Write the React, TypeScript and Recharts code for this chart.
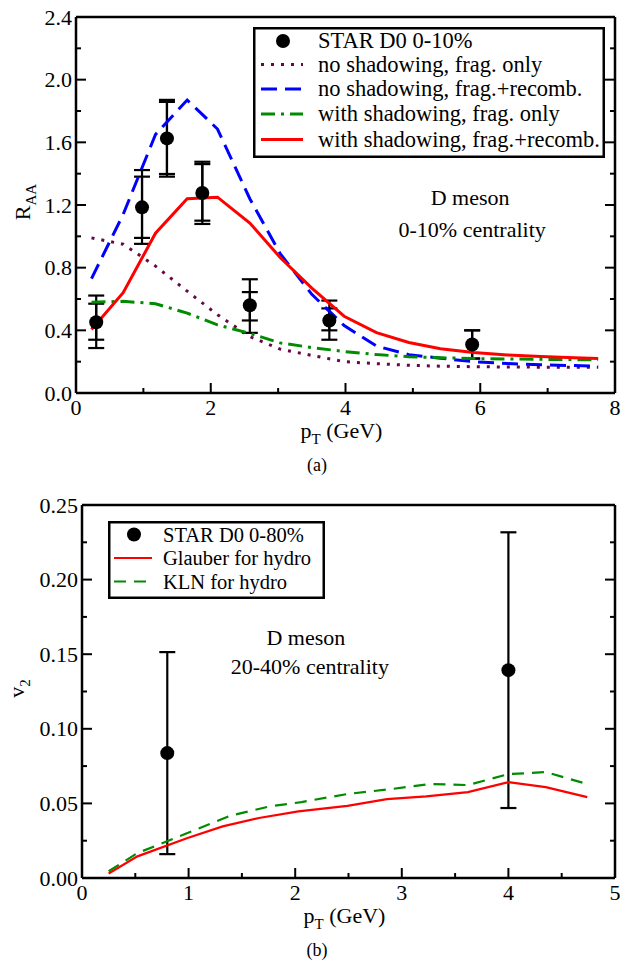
import React from 'react';
import { ComposedChart, Line, Scatter, XAxis, YAxis, ErrorBar, Legend, ReferenceDot } from 'recharts';

const FONT = '"Liberation Serif"';

// ---------- Panel (a): R_AA ----------
const raaPt = [0.3, 0.98, 1.35, 1.875, 2.58, 3.76, 5.88];
const raaVal = [0.452, 1.185, 1.625, 1.277, 0.56, 0.463, 0.31];
const raaInnerLow = [0.34, 0.99, 1.398, 1.1, 0.463, 0.4, 0.22];
const raaInnerHigh = [0.57, 1.381, 1.858, 1.461, 0.644, 0.54, 0.4];
const raaOuterLow = [0.287, 0.952, 1.381, 1.079, 0.384, 0.34, 0.22];
const raaOuterHigh = [0.622, 1.423, 1.871, 1.476, 0.726, 0.59, 0.4];

const modelPt = [0.23, 0.7, 1.18, 1.65, 2.1, 2.58, 3.03, 3.5, 3.98, 4.46, 4.94, 5.41, 5.9, 6.4, 6.9, 7.4, 7.75];
const noShadFrag = [0.99, 0.95, 0.81, 0.65, 0.5, 0.36, 0.28, 0.24, 0.2, 0.187, 0.177, 0.171, 0.168, 0.166, 0.165, 0.165, 0.165];
const noShadFragRecomb = [0.73, 1.14, 1.65, 1.87, 1.685, 1.24, 0.89, 0.63, 0.43, 0.3, 0.245, 0.222, 0.2, 0.188, 0.18, 0.175, 0.172];
const shadFrag = [0.58, 0.585, 0.57, 0.51, 0.435, 0.38, 0.32, 0.29, 0.265, 0.245, 0.232, 0.225, 0.22, 0.217, 0.215, 0.213, 0.212];
const shadFragRecomb = [0.405, 0.64, 1.02, 1.24, 1.25, 1.085, 0.865, 0.67, 0.49, 0.385, 0.322, 0.283, 0.258, 0.243, 0.233, 0.225, 0.22];

const aXTicks = [0, 1, 2, 3, 4, 5, 6, 7, 8];
const aXMajor = [0, 2, 4, 6, 8];
const aYTicks = [0, 0.2, 0.4, 0.6, 0.8, 1.0, 1.2, 1.4, 1.6, 1.8, 2.0, 2.2, 2.4];
const aYMajor = [0, 0.4, 0.8, 1.2, 1.6, 2.0, 2.4];

const aLegendNames = ['STAR D0 0-10%', 'no shadowing, frag. only', 'no shadowing, frag.+recomb.', 'with shadowing, frag. only', 'with shadowing, frag.+recomb.'];
const aAnnotation = ['D meson', '0-10% centrality'];

// ---------- Panel (b): v2 ----------
const v2Pt = [0.8, 4.0];
const v2Val = [0.0837, 0.1393];
const v2Err = [0.0677, 0.0924];

const glauberPt = [0.25, 0.52, 0.99, 1.32, 1.66, 2.03, 2.49, 2.86, 3.23, 3.62, 4.0, 4.35, 4.74];
const glauberV2 = [0.003, 0.0145, 0.0268, 0.0346, 0.0402, 0.0446, 0.0484, 0.0529, 0.0547, 0.0576, 0.0643, 0.0609, 0.0542];
const klnPt = [0.25, 0.52, 0.99, 1.39, 1.76, 2.06, 2.49, 2.9, 3.26, 3.62, 4.0, 4.35, 4.71];
const klnV2 = [0.0045, 0.0167, 0.0301, 0.0417, 0.048, 0.0509, 0.0563, 0.0596, 0.063, 0.0623, 0.0696, 0.071, 0.0636];

const bXTicks = [0, 0.5, 1, 1.5, 2, 2.5, 3, 3.5, 4, 4.5, 5];
const bXMajor = [0, 1, 2, 3, 4, 5];
const bYTicks = [0, 0.025, 0.05, 0.075, 0.1, 0.125, 0.15, 0.175, 0.2, 0.225, 0.25];
const bYMajor = [0, 0.05, 0.1, 0.15, 0.2, 0.25];

const bLegendNames = ['STAR D0 0-80%', 'Glauber for hydro', 'KLN for hydro'];
const bAnnotation = ['D meson', '20-40% centrality'];

// ---------- Styles ----------
const C_PURPLE = '#670748';
const C_BLUE = '#0000ff';
const C_GREEN = '#008b00';
const C_RED = '#ff0000';

const dashPurple = '3 7';
const dashBlue = '16 8';
const dashGreenA = '14 6 3 6';
const dashGreenB = '12 8';

// ---------- Data tables ----------
const aPoints = raaPt.map((x, i) => ({
  x,
  y: raaVal[i],
  eIn: [raaVal[i] - raaInnerLow[i], raaInnerHigh[i] - raaVal[i]],
  eOut: [raaVal[i] - raaOuterLow[i], raaOuterHigh[i] - raaVal[i]],
}));
const mk = (xs: number[], ys: number[]) => xs.map((x, i) => ({ x, y: ys[i] }));
const aPurple = mk(modelPt, noShadFrag);
const aBlue = mk(modelPt, noShadFragRecomb);
const aGreen = mk(modelPt, shadFrag);
const aRed = mk(modelPt, shadFragRecomb);

const bPoints = v2Pt.map((x, i) => ({ x, y: v2Val[i], e: [v2Err[i], v2Err[i]] }));
const bRed = mk(glauberPt, glauberV2);
const bGreen = mk(klnPt, klnV2);

// ---------- Helpers ----------
type Side = 'bottom' | 'left' | 'top' | 'right';
const isIn = (arr: number[], v: number) => arr.some((m) => Math.abs(m - v) < 1e-6);

const txtStyle = { fontFamily: FONT };

const makeTick = (side: Side, majors: number[], fmt: ((v: number) => string) | null) => (props: any) => {
  const { x, y, payload } = props;
  const v = Number(payload.value);
  const major = isIn(majors, v);
  const len = major ? 10 : 5;
  let line: any = null;
  let label: any = null;
  if (side === 'bottom') {
    line = <line x1={x} y1={y} x2={x} y2={y - len} stroke="#000" strokeWidth={2} />;
    if (major && fmt) label = <text x={x} y={y + 22} textAnchor="middle" style={txtStyle} fontSize={22} fill="#000">{fmt(v)}</text>;
  } else if (side === 'left') {
    line = <line x1={x} y1={y} x2={x + len} y2={y} stroke="#000" strokeWidth={2} />;
    if (major && fmt) label = <text x={x - 4} y={y + 7.5} textAnchor="end" style={txtStyle} fontSize={22} fill="#000">{fmt(v)}</text>;
  } else if (side === 'top') {
    line = <line x1={x} y1={y} x2={x} y2={y + len} stroke="#000" strokeWidth={2} />;
  } else {
    line = <line x1={x} y1={y} x2={x - len} y2={y} stroke="#000" strokeWidth={2} />;
  }
  return (
    <g>
      {line}
      {label}
    </g>
  );
};

const axisLine = { stroke: '#000', strokeWidth: 2.5 };

const xTitle = (dx: number, dy: number) => (props: any) => {
  const vb = props.viewBox || { x: 0, y: 0, width: 0, height: 0 };
  return (
    <text x={vb.x + vb.width / 2 + dx} y={vb.y + dy} textAnchor="middle" fontSize={22} fill="#000" style={{ fontFamily: FONT, whiteSpace: 'pre' }}>
      p<tspan fontSize={15} dy={6}>T</tspan>
      <tspan dy={-6}> (GeV)</tspan>
    </text>
  );
};

const yTitle = (main: string, sub: string, bx: number, dy: number) => (props: any) => {
  const vb = props.viewBox || { x: 0, y: 0, width: 0, height: 0 };
  const cx = vb.x + bx;
  const cy = vb.y + vb.height / 2 + dy;
  return (
    <text transform={`rotate(-90, ${cx}, ${cy})`} x={cx} y={cy} textAnchor="middle" fontSize={22} fill="#000" style={txtStyle}>
      {main}
      <tspan fontSize={15} dy={6}>{sub}</tspan>
    </text>
  );
};

const annotation = (lines: string[], gap: number, dx2: number) => (props: any) => {
  const vb = props.viewBox || { x: 0, y: 0, width: 0, height: 0 };
  const cx = vb.x + vb.width / 2;
  const cy = vb.y + vb.height / 2;
  return (
    <g>
      <text x={cx} y={cy} textAnchor="middle" fontSize={22} fill="#000" style={txtStyle}>{lines[0]}</text>
      <text x={cx + dx2} y={cy + gap} textAnchor="middle" fontSize={22} fill="#000" style={txtStyle}>{lines[1]}</text>
    </g>
  );
};

const dotShape = (props: any) => <circle cx={props.cx} cy={props.cy} r={7} fill="#000" />;

const TopLegend = () => {
  const rows = [14, 37.5, 62, 87, 112.5];
  const styles = [
    null,
    { stroke: C_PURPLE, dash: dashPurple },
    { stroke: C_BLUE, dash: dashBlue },
    { stroke: C_GREEN, dash: dashGreenA },
    { stroke: C_RED, dash: undefined },
  ];
  return (
    <svg width={352} height={131} style={{ display: 'block' }}>
      <rect x={1.25} y={1.25} width={349.5} height={128.5} fill="#fff" stroke="#000" strokeWidth={2.5} />
      {aLegendNames.map((name, i) => (
        <g key={name}>
          {i === 0 ? (
            <circle cx={30} cy={rows[i]} r={7} fill="#000" />
          ) : (
            <line x1={8} x2={50} y1={rows[i]} y2={rows[i]} stroke={styles[i]!.stroke} strokeWidth={3} strokeDasharray={styles[i]!.dash} />
          )}
          <text x={65} y={rows[i] + 7} fontSize={22.5} fill="#000" style={txtStyle}>{name}</text>
        </g>
      ))}
    </svg>
  );
};

const BottomLegend = () => {
  const rows = [13.5, 37, 60.5];
  const styles = [null, { stroke: C_RED, dash: undefined }, { stroke: C_GREEN, dash: dashGreenB }];
  return (
    <svg width={217} height={78} style={{ display: 'block' }}>
      <rect x={1.25} y={1.25} width={214.5} height={75.5} fill="#fff" stroke="#000" strokeWidth={2.5} />
      {bLegendNames.map((name, i) => (
        <g key={name}>
          {i === 0 ? (
            <circle cx={26} cy={rows[i]} r={7} fill="#000" />
          ) : (
            <line x1={6} x2={44} y1={rows[i]} y2={rows[i]} stroke={styles[i]!.stroke} strokeWidth={2} strokeDasharray={styles[i]!.dash} />
          )}
          <text x={55} y={rows[i] + 7} fontSize={20.5} fill="#000" style={txtStyle}>{name}</text>
        </g>
      ))}
    </svg>
  );
};

const fmt1 = (v: number) => v.toFixed(1);
const fmt2 = (v: number) => v.toFixed(2);
const fmt0 = (v: number) => String(Math.round(v));

export default function App() {
  return (
    <div style={{ position: 'absolute', left: 0, top: 0, width: 631, height: 967, background: '#fff', fontFamily: FONT }}>
      <div style={{ position: 'absolute', left: 0, top: 0 }}>
        <ComposedChart width={631} height={480} margin={{ top: 12, right: 6, bottom: 7, left: 26 }} style={{ fontFamily: FONT }}>
          <XAxis
            dataKey="x"
            type="number"
            domain={[0, 8]}
            ticks={aXTicks}
            interval={0}
            allowDataOverflow
            height={80}
            tickSize={0}
            tickMargin={0}
            axisLine={axisLine}
            tickLine={false}
            tick={makeTick('bottom', aXMajor, fmt0)}
            label={{ content: xTitle(-4, 45) } as any}
          />
          <XAxis
            xAxisId="top"
            orientation="top"
            type="number"
            domain={[0, 8]}
            ticks={aXTicks}
            interval={0}
            allowDataOverflow
            height={5}
            tickSize={0}
            tickMargin={0}
            axisLine={axisLine}
            tickLine={false}
            tick={makeTick('top', aXMajor, null)}
          />
          <YAxis
            dataKey="y"
            type="number"
            domain={[0, 2.4]}
            ticks={aYTicks}
            interval={0}
            allowDataOverflow
            width={50}
            tickSize={0}
            tickMargin={0}
            axisLine={axisLine}
            tickLine={false}
            tick={makeTick('left', aYMajor, fmt1)}
            label={{ content: yTitle('R', 'AA', 4, -3) } as any}
          />
          <YAxis
            yAxisId="right"
            orientation="right"
            type="number"
            domain={[0, 2.4]}
            ticks={aYTicks}
            interval={0}
            allowDataOverflow
            width={10}
            tickSize={0}
            tickMargin={0}
            axisLine={axisLine}
            tickLine={false}
            tick={makeTick('right', aYMajor, null)}
          />
          <Scatter name={aLegendNames[0]} data={aPoints} shape={dotShape} isAnimationActive={false}>
            <ErrorBar dataKey="eOut" direction="y" width={8} stroke="#000" strokeWidth={2.2} isAnimationActive={false} />
            <ErrorBar dataKey="eIn" direction="y" width={8} stroke="#000" strokeWidth={2.2} isAnimationActive={false} />
          </Scatter>
          <Line name={aLegendNames[1]} data={aPurple} dataKey="y" type="linear" stroke={C_PURPLE} strokeWidth={3} strokeDasharray={dashPurple} dot={false} isAnimationActive={false} />
          <Line name={aLegendNames[2]} data={aBlue} dataKey="y" type="linear" stroke={C_BLUE} strokeWidth={3} strokeDasharray={dashBlue} dot={false} isAnimationActive={false} />
          <Line name={aLegendNames[3]} data={aGreen} dataKey="y" type="linear" stroke={C_GREEN} strokeWidth={3} strokeDasharray={dashGreenA} dot={false} isAnimationActive={false} />
          <Line name={aLegendNames[4]} data={aRed} dataKey="y" type="linear" stroke={C_RED} strokeWidth={3} dot={false} isAnimationActive={false} />
          <ReferenceDot x={5.85} y={1.2} r={1} fill="none" stroke="none" ifOverflow="visible" label={annotation(aAnnotation, 32, 2) as any} />
          <Legend
            layout="vertical"
            align="center"
            verticalAlign="middle"
            wrapperStyle={{ left: 253, top: 27, width: 352, height: 131 }}
            content={() => <TopLegend />}
          />
        </ComposedChart>
      </div>
      <div style={{ position: 'absolute', left: 295, top: 454, width: 44, textAlign: 'center', fontSize: 18, lineHeight: '22px', fontFamily: FONT }}>(a)</div>

      <div style={{ position: 'absolute', left: 0, top: 488 }}>
        <ComposedChart width={631} height={479} margin={{ top: 12, right: 6, bottom: 9, left: 32 }} style={{ fontFamily: FONT }}>
          <XAxis
            dataKey="x"
            type="number"
            domain={[0, 5]}
            ticks={bXTicks}
            interval={0}
            allowDataOverflow
            height={80}
            tickSize={0}
            tickMargin={0}
            axisLine={axisLine}
            tickLine={false}
            tick={makeTick('bottom', bXMajor, fmt0)}
            label={{ content: xTitle(-4, 45) } as any}
          />
          <XAxis
            xAxisId="top"
            orientation="top"
            type="number"
            domain={[0, 5]}
            ticks={bXTicks}
            interval={0}
            allowDataOverflow
            height={5}
            tickSize={0}
            tickMargin={0}
            axisLine={axisLine}
            tickLine={false}
            tick={makeTick('top', bXMajor, null)}
          />
          <YAxis
            dataKey="y"
            type="number"
            domain={[0, 0.25]}
            ticks={bYTicks}
            interval={0}
            allowDataOverflow
            width={50}
            tickSize={0}
            tickMargin={0}
            axisLine={axisLine}
            tickLine={false}
            tick={makeTick('left', bYMajor, fmt2)}
            label={{ content: yTitle('v', '2', -8, -3) } as any}
          />
          <YAxis
            yAxisId="right"
            orientation="right"
            type="number"
            domain={[0, 0.25]}
            ticks={bYTicks}
            interval={0}
            allowDataOverflow
            width={10}
            tickSize={0}
            tickMargin={0}
            axisLine={axisLine}
            tickLine={false}
            tick={makeTick('right', bYMajor, null)}
          />
          <Scatter name={bLegendNames[0]} data={bPoints} shape={dotShape} isAnimationActive={false}>
            <ErrorBar dataKey="e" direction="y" width={8} stroke="#000" strokeWidth={2.2} isAnimationActive={false} />
          </Scatter>
          <Line name={bLegendNames[1]} data={bRed} dataKey="y" type="linear" stroke={C_RED} strokeWidth={2.2} dot={false} isAnimationActive={false} />
          <Line name={bLegendNames[2]} data={bGreen} dataKey="y" type="linear" stroke={C_GREEN} strokeWidth={2.2} strokeDasharray={dashGreenB} dot={false} isAnimationActive={false} />
          <ReferenceDot x={2.1} y={0.156} r={1} fill="none" stroke="none" ifOverflow="visible" label={annotation(bAnnotation, 29, 4) as any} />
          <Legend
            layout="vertical"
            align="center"
            verticalAlign="middle"
            wrapperStyle={{ left: 108, top: 33, width: 217, height: 78 }}
            content={() => <BottomLegend />}
          />
        </ComposedChart>
      </div>
      <div style={{ position: 'absolute', left: 295, top: 939, width: 44, textAlign: 'center', fontSize: 18, lineHeight: '22px', fontFamily: FONT }}>(b)</div>
    </div>
  );
}
